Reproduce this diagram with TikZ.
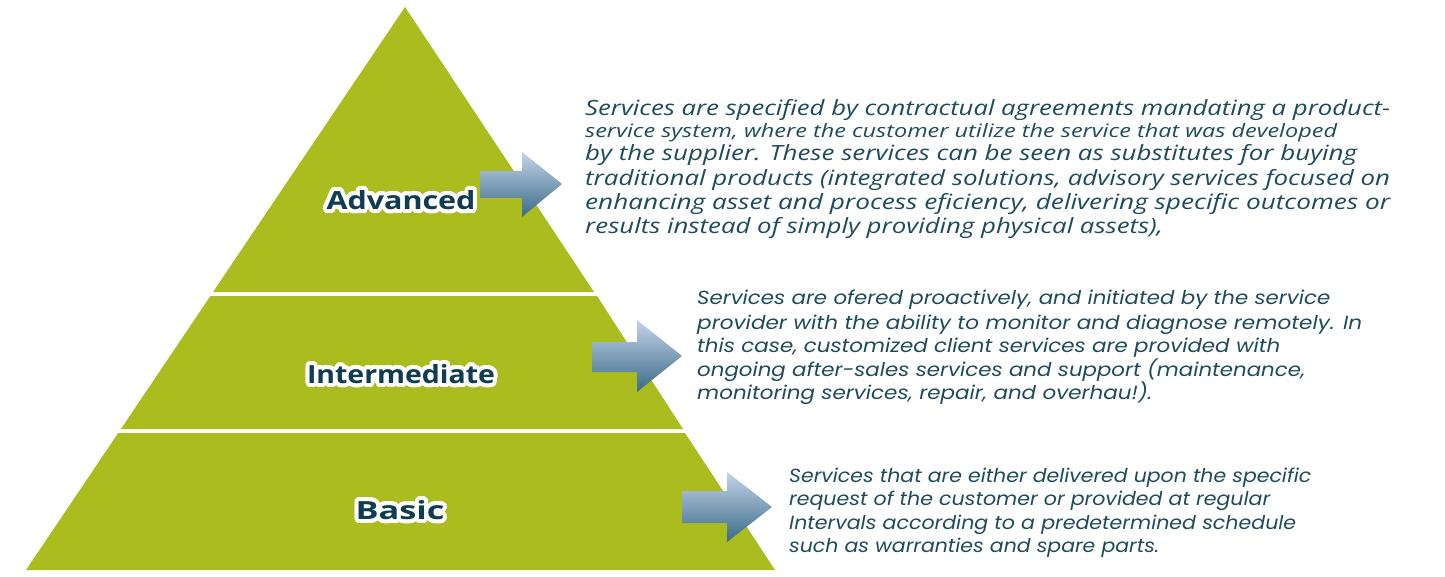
\documentclass[tikz,border=0pt]{standalone}
\usepackage{fontspec}
\usepackage{graphicx}
\usetikzlibrary{calc}
\setmainfont{Open Sans}
\newfontfamily\descA{Open Sans}
\newfontfamily\descB{Poppins}
\newfontfamily\labfont{Open Sans}
\definecolor{pyr}{HTML}{ABBC1F}
\definecolor{txt}{HTML}{1E4B5C}
\definecolor{labc}{HTML}{0F3C50}
\definecolor{arrtop}{HTML}{C3D4E8}
\definecolor{arrbot}{HTML}{3A6A88}
\tikzset{
  tier/.style={fill=pyr, draw=none},
  labtxt/.style={inner sep=0pt, text=labc, font=\labfont\bfseries\fontsize{25}{25}\selectfont},
  halotxt/.style={labtxt, text=white},
  dA/.style={anchor=base west, inner sep=0pt, text=txt, font=\descA\itshape\fontsize{21}{24}\selectfont},
  dAs/.style={dA, font=\descA\itshape\fontsize{18.5}{22}\selectfont},
  dB/.style={anchor=base west, inner sep=0pt, text=txt, font=\descB\itshape\fontsize{19}{24}\selectfont},
  arrowshape/.style={top color=arrtop, bottom color=arrbot, draw=none},
}
\newcommand\fitw[2]{\resizebox{#1pt}{\height}{#2}}
\newcommand\halolabel[4]{%
  \foreach \ang in {0,22.5,...,337.5}{%
    \node[halotxt] at ($(#2)+(\ang:4)$) {\fitw{#3}{#4}};
    \node[halotxt] at ($(#2)+(\ang:2)$) {\fitw{#3}{#4}};
  }
  \node[labtxt] (#1) at (#2) {\fitw{#3}{#4}};
}
\begin{document}
\begin{tikzpicture}[x=1pt,y=-1pt]
\useasboundingbox (0,0) rectangle (1445,577);
% pyramid tiers
\fill[tier] (405,7) -- (594,292) -- (213,292) -- cycle;
\fill[tier] (210.4,296) -- (597,296) -- (683,429) -- (120.9,429) -- cycle;
\fill[tier] (118.2,433) -- (685,433) -- (775,570) -- (26,570) -- cycle;
% labels
\halolabel{adv}{401,200}{149}{Advanced}
\halolabel{inter}{401,374}{188}{Intermediate}
\halolabel{basic}{400,510}{89}{Basic}
% arrows
\shade[arrowshape] (480,171) -- (522,171) -- (522,152) -- (562,184) -- (522,217) -- (522,198) -- (480,198) -- cycle;
\shade[arrowshape] (592,342) -- (637,342) -- (637,320) -- (682,356) -- (637,392) -- (637,372) -- (592,372) -- cycle;
\shade[arrowshape] (682,491) -- (727,491) -- (727,472) -- (772,507) -- (727,542) -- (727,523) -- (682,523) -- cycle;
% block 1
\node[dA] (a1) at (585,116) {\fitw{805}{Services are specified by contractual agreements mandating a product-}};
\node[dAs] (a2) at (585,138) {\fitw{752}{service system, where the customer utilize the service that was developed}};
\node[dA] (a3) at (585,161) {\fitw{772}{by the supplier. These services can be seen as substitutes for buying}};
\node[dA] (a4) at (585,186) {\fitw{805}{traditional products (integrated solutions, advisory services focused on}};
\node[dA] (a5) at (585,210) {\fitw{805}{enhancing asset and process eficiency, delivering specific outcomes or}};
\node[dA] (a6) at (585,234) {\fitw{578}{results instead of simply providing physical assets),}};
% block 2
\node[dB] (b1) at (697,305) {\fitw{633}{Services are ofered proactively, and initiated by the service}};
\node[dB] (b2) at (697,329) {\fitw{665}{provider with the ability to monitor and diagnose remotely. In}};
\node[dB] (b3) at (697,352) {\fitw{583}{this case, customized client services are provided with}};
\node[dB] (b4) at (697,376) {\fitw{608}{ongoing after-sales services and support (maintenance,}};
\node[dB] (b5) at (697,399) {\fitw{455}{monitoring services, repair, and overhau!).}};
% block 3
\node[dB] (c1) at (789,482) {\fitw{522}{Services that are either delivered upon the specific}};
\node[dB] (c2) at (789,505) {\fitw{481}{request of the customer or provided at regular}};
\node[dB] (c3) at (789,529) {\fitw{507}{Intervals according to a predetermined schedule}};
\node[dB] (c4) at (789,552) {\fitw{370}{such as warranties and spare parts.}};
\end{tikzpicture}
\end{document}
